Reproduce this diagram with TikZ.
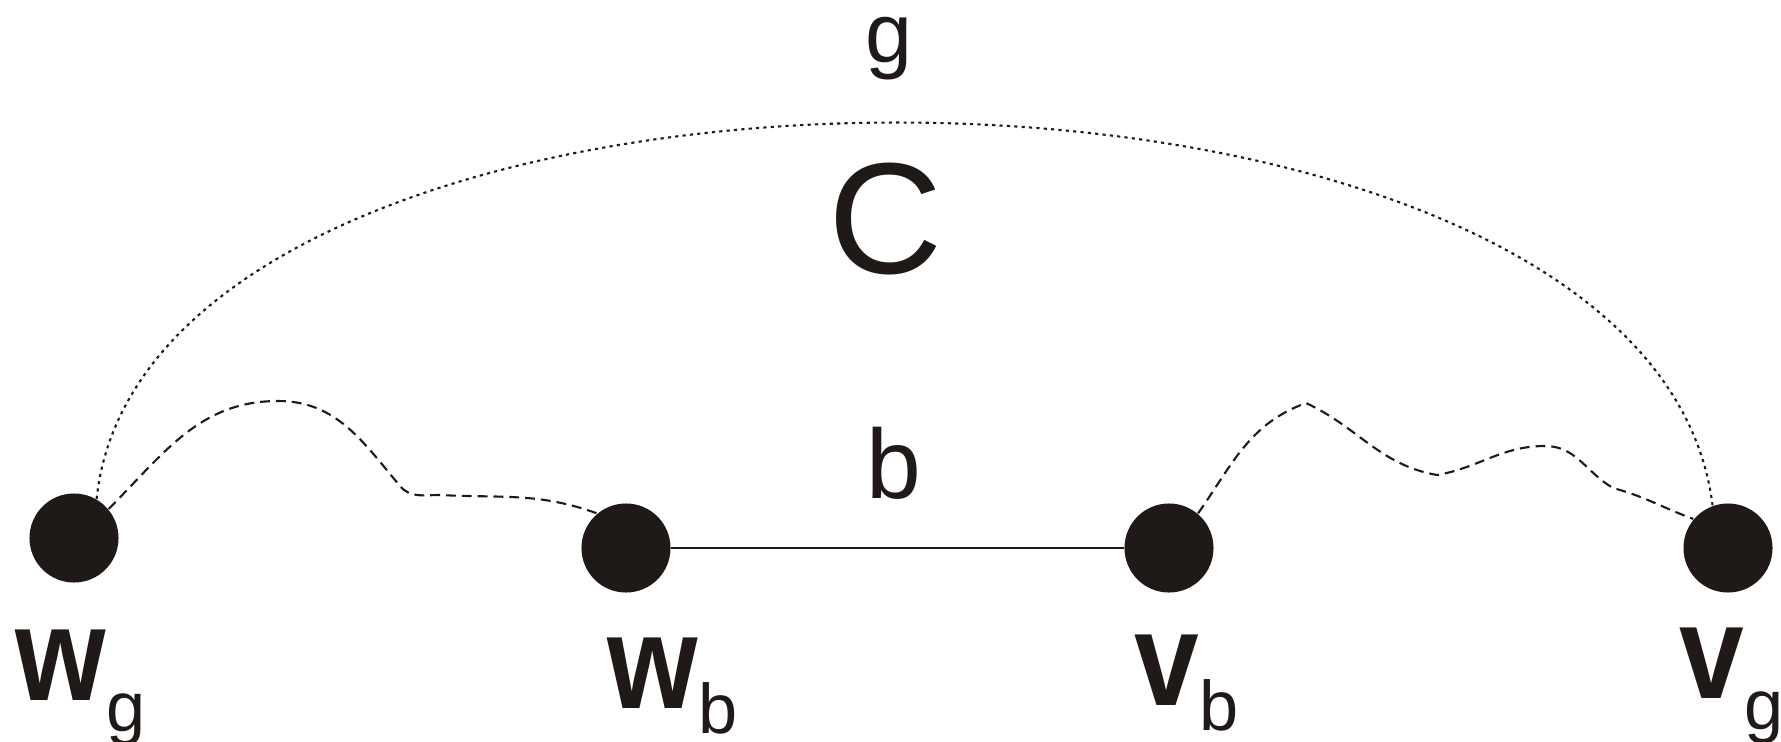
\documentclass[tikz,border=0pt]{standalone}
\usepackage{fontspec}
\setmainfont{Liberation Sans}
\newfontfamily\lblfont[FakeStretch=0.87]{Liberation Sans}
\definecolor{ink}{HTML}{1F1A17}
\newcommand{\vlab}[3]{{\lblfont\bfseries #1}\raisebox{-#3}{\fontsize{20}{24}\selectfont #2}}

\begin{document}
\begin{tikzpicture}[x=0.01cm,y=0.01cm,color=ink]
	\useasboundingbox (0,0) rectangle (1781,741);
	\begin{scope}[every node/.style={circle,fill=ink,inner sep=0pt,minimum size=0.89cm}]
	\node (wg) at (74,203) {};
	\node (wb) at (626,193) {};
	\node (vb) at (1169,193) {};
	\node (vg) at (1728,193) {};
	\end{scope}
	\begin{scope}[every node/.style={inner sep=0pt,anchor=base west,font=\fontsize{38}{42}\selectfont}]
	\node (lwg) at (15,41) {\vlab{w}{g}{9pt}};
	\node (lwb) at (607,33) {\vlab{w}{b}{7.2pt}};
	\node (lvb) at (1134,36) {\vlab{v}{b}{7.2pt}};
	\node (lvg) at (1679,43) {\vlab{v}{g}{9pt}};
	\end{scope}
	\node [inner sep=0pt,anchor=base,font=\fontsize{24}{28}\selectfont] (lg) at (889,679) {g};
	\node [inner sep=0pt,anchor=base,font=\fontsize{45}{50}\selectfont] (lc) at (886,468) {C};
	\node [inner sep=0pt,anchor=base,font=\fontsize{28}{32}\selectfont] (lb) at (894,243) {b};
	\draw [line width=0.6pt] (wb) -- (vb);
	\draw [line width=0.6pt,dash pattern=on 0.9pt off 1.2pt] (wg.60) .. controls (150,745) and (1650,745) .. (vg.110);
	\draw [line width=0.6pt,dash pattern=on 2.8pt off 1.7pt] (wg.40) to[out=45,in=180] (278,340) to[out=0,in=130] (400,255) to[out=-50,in=180] (440,246) to[out=-3,in=160] (wb.130);
	\draw [line width=0.6pt,dash pattern=on 2.8pt off 1.7pt] (vb.50) to[out=55,in=200] (1306,338) to[out=-25,in=170] (1437,266) to[out=10,in=180] (1545,295) to[out=0,in=150] (1613,253) to[out=-15,in=160] (vg.140);
\end{tikzpicture}
\end{document}
